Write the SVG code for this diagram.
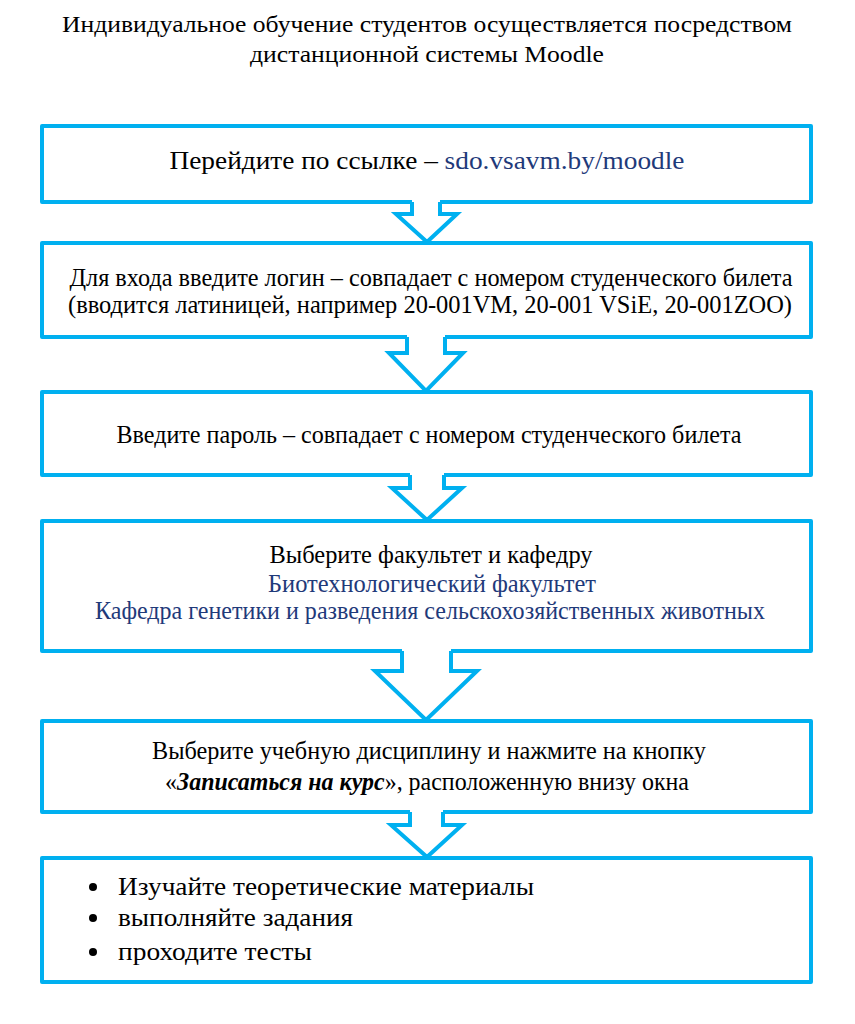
<svg xmlns="http://www.w3.org/2000/svg" width="855" height="1024" viewBox="0 0 855 1024">
<style>
.box{fill:#fff;stroke:#00B0F0;stroke-width:4;stroke-linejoin:round}
.arw{fill:none;stroke:#00B0F0;stroke-width:4;stroke-linejoin:miter}
.cover{fill:#fff;stroke:none}
.b{fill:#1F3A7A}
</style>
<rect width="855" height="1024" fill="#fff"/>
<g id="title" font-family="Liberation Serif, serif" font-size="23" text-anchor="middle" fill="#000">
<text x="427" y="32" textLength="730" lengthAdjust="spacingAndGlyphs">Индивидуальное обучение студентов осуществляется посредством</text>
<text x="427" y="62" textLength="354" lengthAdjust="spacingAndGlyphs">дистанционной системы Moodle</text>
</g>
<g id="node1" font-family="Liberation Serif, serif" font-size="26" text-anchor="middle" fill="#000">
<rect class="box" x="42" y="126" width="769" height="76"/>
<text x="427" y="169" textLength="515" lengthAdjust="spacingAndGlyphs">Перейдите по ссылке – <tspan class="b">sdo.vsavm.by/moodle</tspan></text>
</g>
<g id="node2" font-family="Liberation Serif, serif" font-size="26" text-anchor="middle" fill="#000">
<rect class="box" x="42" y="243" width="769" height="94"/>
<text x="431" y="286" textLength="723" lengthAdjust="spacingAndGlyphs">Для входа введите логин – совпадает с номером студенческого билета</text>
<text x="430" y="313" textLength="724" lengthAdjust="spacingAndGlyphs">(вводится латиницей, например 20-001VM, 20-001 VSiE, 20-001ZOO)</text>
</g>
<g id="node3" font-family="Liberation Serif, serif" font-size="26" text-anchor="middle" fill="#000">
<rect class="box" x="42" y="392" width="769" height="83"/>
<text x="429" y="443" textLength="625" lengthAdjust="spacingAndGlyphs">Введите пароль – совпадает с номером студенческого билета</text>
</g>
<g id="node4" font-family="Liberation Serif, serif" font-size="26" text-anchor="middle" fill="#000">
<rect class="box" x="42" y="521" width="769" height="130"/>
<text x="431" y="563" textLength="323" lengthAdjust="spacingAndGlyphs">Выберите факультет и кафедру</text>
<text class="b" x="432" y="592" textLength="328" lengthAdjust="spacingAndGlyphs">Биотехнологический факультет</text>
<text class="b" x="430" y="619" textLength="670" lengthAdjust="spacingAndGlyphs">Кафедра генетики и разведения сельскохозяйственных животных</text>
</g>
<g id="node5" font-family="Liberation Serif, serif" font-size="26" text-anchor="middle" fill="#000">
<rect class="box" x="42" y="721" width="769" height="91"/>
<text x="429" y="759" textLength="554" lengthAdjust="spacingAndGlyphs">Выберите учебную дисциплину и нажмите на кнопку</text>
<text x="427" y="790" textLength="524" lengthAdjust="spacingAndGlyphs">«<tspan font-weight="bold" font-style="italic">Записаться на курс</tspan>», расположенную внизу окна</text>
</g>
<g id="node6" font-family="Liberation Serif, serif" font-size="26" fill="#000">
<rect class="box" x="42" y="858" width="769" height="124"/>
<circle cx="93" cy="887" r="4"/>
<circle cx="93" cy="918" r="4"/>
<circle cx="93" cy="952" r="4"/>
<text x="118" y="895" textLength="416" lengthAdjust="spacingAndGlyphs">Изучайте теоретические материалы</text>
<text x="118" y="926" textLength="235" lengthAdjust="spacingAndGlyphs">выполняйте задания</text>
<text x="118" y="960" textLength="194" lengthAdjust="spacingAndGlyphs">проходите тесты</text>
</g>
<g id="connectors">
<polygon class="cover" points="412,198 412,214 396,214 427,242 457,214 440,214 440,198"/>
<polyline class="arw" points="412,202 412,214 396,214 427,242 457,214 440,214 440,202"/>
<polygon class="cover" points="407,333 407,353 389,353 426,391 463,353 445,353 445,333"/>
<polyline class="arw" points="407,337 407,353 389,353 426,391 463,353 445,353 445,337"/>
<polygon class="cover" points="410,471 410,488 392,488 427,520 462,488 444,488 444,471"/>
<polyline class="arw" points="410,475 410,488 392,488 427,520 462,488 444,488 444,475"/>
<polygon class="cover" points="402,647 402,671 375,671 426,720 477,671 451,671 451,647"/>
<polyline class="arw" points="402,651 402,671 375,671 426,720 477,671 451,671 451,651"/>
<polygon class="cover" points="410,808 410,825 391,825 427,857 462,825 443,825 443,808"/>
<polyline class="arw" points="410,812 410,825 391,825 427,857 462,825 443,825 443,812"/>
</g>
</svg>
